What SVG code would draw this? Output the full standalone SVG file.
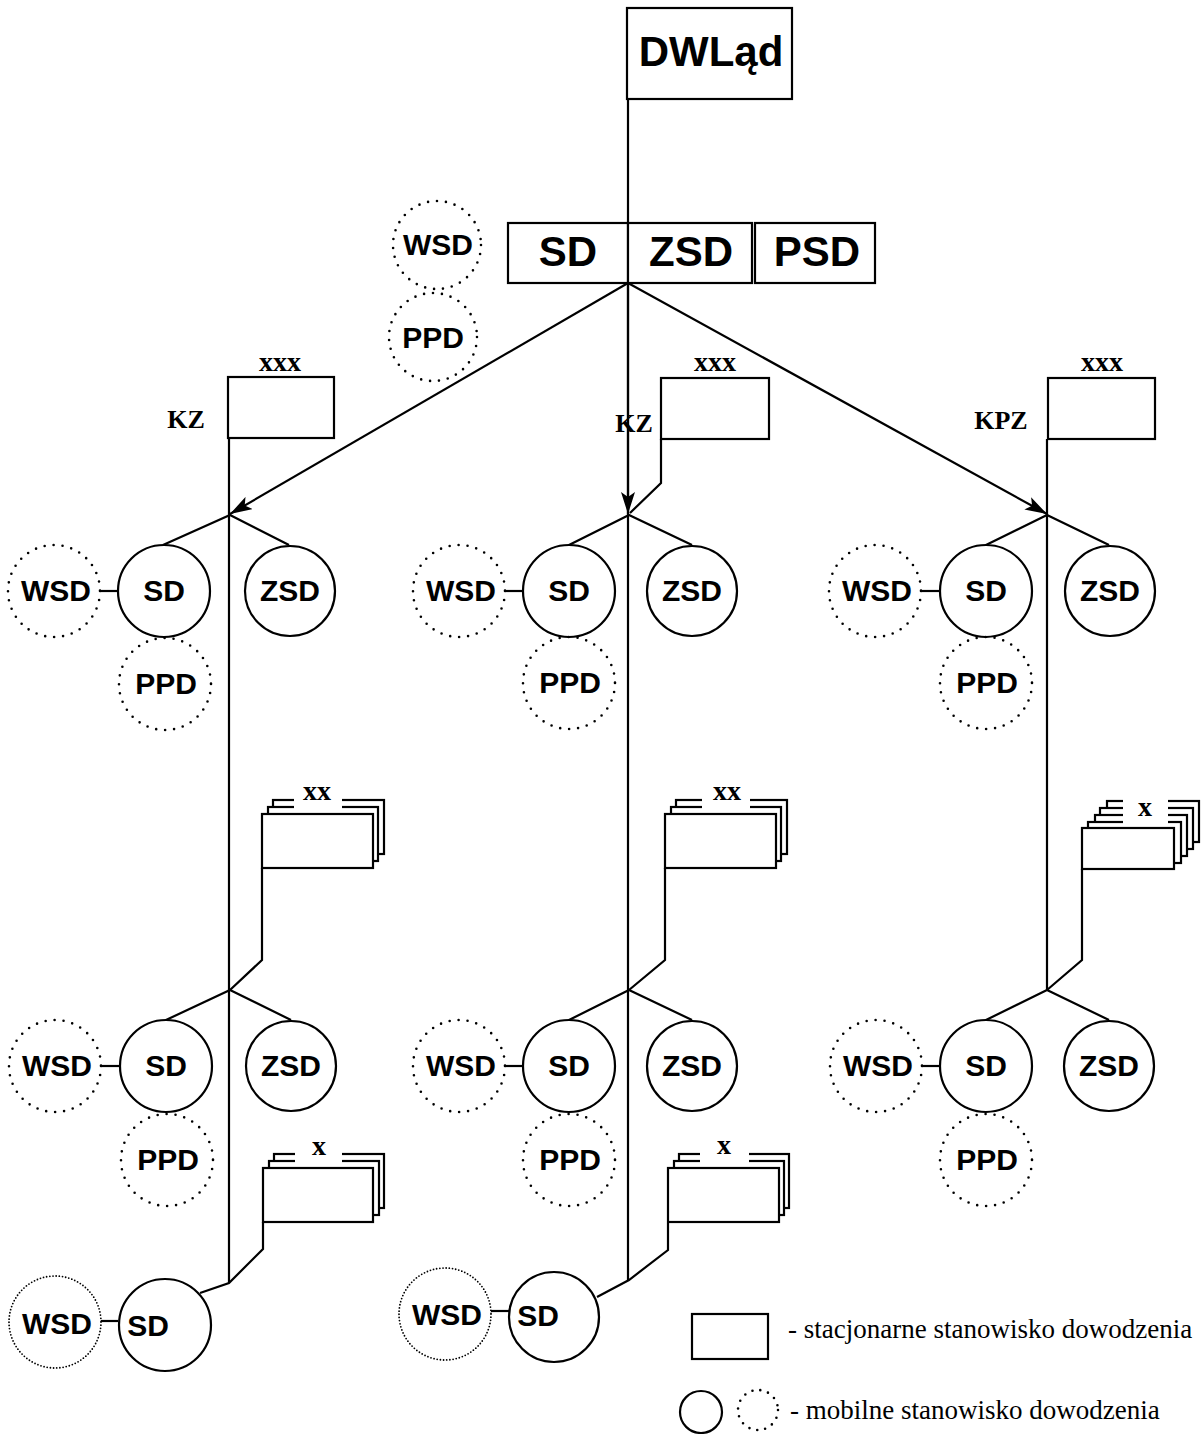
<svg xmlns="http://www.w3.org/2000/svg" width="1204" height="1434" viewBox="0 0 1204 1434">
<defs>
<style>
.ln{stroke:#000;stroke-width:2.2;fill:none}
.bx{stroke:#000;stroke-width:2.2;fill:#fff}
.sc{stroke:#000;stroke-width:2.2;fill:#fff}
.dc{stroke:#000;stroke-width:2.6;fill:none;stroke-dasharray:0 9;stroke-linecap:round}
.fc{stroke:#000;stroke-width:1.8;fill:none;stroke-dasharray:0 3.2;stroke-linecap:round}
.t{font-family:"Liberation Sans",Arial,sans-serif;font-weight:bold;font-size:30px;text-anchor:middle;fill:#000}
.tb{font-family:"Liberation Sans",Arial,sans-serif;font-weight:bold;font-size:42px;text-anchor:middle;fill:#000}
.s{font-family:"Liberation Serif","Times New Roman",serif;font-weight:bold;font-size:26px;text-anchor:middle;fill:#000}
.lg{font-family:"Liberation Serif","Times New Roman",serif;font-size:27px;fill:#000}
</style>
<marker id="ar" viewBox="0 0 22 14" refX="22" refY="7" markerWidth="22" markerHeight="14" markerUnits="userSpaceOnUse" orient="auto">
<path d="M0,0 L22,7 L0,14 L5,7 Z" fill="#000"/>
</marker>
</defs>
<rect width="1204" height="1434" fill="#fff"/>

<g id="connectors">
<path class="ln" d="M628,99 V1280"/>
<path class="ln" d="M229,438 V1283"/>
<path class="ln" d="M1047,439 V990"/>
<path class="ln" d="M628,283 L230,514" marker-end="url(#ar)"/>
<path class="ln" d="M628,283 L628,514" marker-end="url(#ar)"/>
<path class="ln" d="M628,283 L1047,514" marker-end="url(#ar)"/>
<path class="ln" d="M661,439 V483 L630,513"/>
<path class="ln" d="M163,545 L230,515 L289,545"/>
<path class="ln" d="M569,545 L629,515 L692,545"/>
<path class="ln" d="M986,545 L1047,515 L1109,545"/>
<path class="ln" d="M262,868 V960 L230,990"/>
<path class="ln" d="M665,868 V960 L629,990"/>
<path class="ln" d="M1082,869 V960 L1047,990"/>
<path class="ln" d="M166,1020 L230,990 L291,1020"/>
<path class="ln" d="M569,1020 L629,990 L692,1020"/>
<path class="ln" d="M986,1020 L1047,990 L1109,1020"/>
<path class="ln" d="M263,1222 V1249 L229,1283 L200,1293"/>
<path class="ln" d="M668,1223 V1250 L629,1280 L597,1297"/>
<path class="ln" d="M100,591 H117"/>
<path class="ln" d="M505,591 H522"/>
<path class="ln" d="M921,591 H940"/>
<path class="ln" d="M101,1066 H120"/>
<path class="ln" d="M505,1066 H523"/>
<path class="ln" d="M922,1066 H940"/>
<path class="ln" d="M101,1321 H118"/>
<path class="ln" d="M491,1311 H509"/>
</g>

<g id="dwlad">
<rect class="bx" x="627" y="8" width="165" height="91"/>
<text class="tb" x="711" y="66">DWLąd</text>
</g>

<g id="top-row">
<rect class="bx" x="508" y="223" width="120" height="60"/>
<rect class="bx" x="628" y="223" width="124" height="60"/>
<rect class="bx" x="755" y="223" width="120" height="60"/>
<text class="tb" x="568" y="266">SD</text>
<text class="tb" x="691" y="266">ZSD</text>
<text class="tb" x="817" y="266">PSD</text>
</g>

<g id="top-wsd"><circle class="dc" cx="437" cy="245" r="44"/><text class="t" x="438" y="255">WSD</text></g>
<g id="top-ppd"><circle class="dc" cx="433" cy="337" r="44"/><text class="t" x="433" y="348">PPD</text></g>

<g id="flag-kz1">
<rect class="bx" x="228" y="377" width="106" height="61"/>
<text class="s" x="280" y="371" style="font-size:28px">xxx</text>
<text class="s" x="186" y="428">KZ</text>
</g>
<g id="flag-kz2">
<rect class="bx" x="661" y="378" width="108" height="61"/>
<text class="s" x="715" y="371" style="font-size:28px">xxx</text>
<text class="s" x="634" y="432">KZ</text>
</g>
<g id="flag-kpz">
<rect class="bx" x="1048" y="378" width="107" height="61"/>
<text class="s" x="1102" y="371" style="font-size:28px">xxx</text>
<text class="s" x="1001" y="429">KPZ</text>
</g>

<g id="l1-left">
<circle class="dc" cx="54" cy="591" r="46"/><text class="t" x="56" y="601">WSD</text>
<circle class="sc" cx="164" cy="591" r="46"/><text class="t" x="164" y="601">SD</text>
<circle class="sc" cx="290" cy="591" r="45"/><text class="t" x="290" y="601">ZSD</text>
<circle class="dc" cx="165" cy="684" r="46"/><text class="t" x="166" y="694">PPD</text>
</g>
<g id="l1-mid">
<circle class="dc" cx="459" cy="591" r="46"/><text class="t" x="461" y="601">WSD</text>
<circle class="sc" cx="569" cy="591" r="46"/><text class="t" x="569" y="601">SD</text>
<circle class="sc" cx="692" cy="591" r="45"/><text class="t" x="692" y="601">ZSD</text>
<circle class="dc" cx="569" cy="683" r="46"/><text class="t" x="570" y="693">PPD</text>
</g>
<g id="l1-right">
<circle class="dc" cx="875" cy="591" r="46"/><text class="t" x="877" y="601">WSD</text>
<circle class="sc" cx="986" cy="591" r="46"/><text class="t" x="986" y="601">SD</text>
<circle class="sc" cx="1110" cy="591" r="45"/><text class="t" x="1110" y="601">ZSD</text>
<circle class="dc" cx="986" cy="683" r="46"/><text class="t" x="987" y="693">PPD</text>
</g>

<g id="stack-xx-left">
<rect class="bx" x="273" y="800" width="111" height="54"/>
<rect class="bx" x="268" y="807" width="110" height="54"/>
<rect class="bx" x="262" y="814" width="111" height="54"/>
<rect x="294" y="794" width="48" height="17" fill="#fff"/>
<text class="s" x="317" y="800" style="font-size:28px">xx</text>
</g>
<g id="stack-xx-mid">
<rect class="bx" x="676" y="800" width="111" height="54"/>
<rect class="bx" x="671" y="807" width="110" height="54"/>
<rect class="bx" x="665" y="814" width="111" height="54"/>
<rect x="702" y="794" width="48" height="17" fill="#fff"/>
<text class="s" x="727" y="800" style="font-size:28px">xx</text>
</g>
<g id="stack-x-right">
<rect class="bx" x="1107" y="801" width="92" height="41"/>
<rect class="bx" x="1100" y="808" width="93" height="41"/>
<rect class="bx" x="1095" y="815" width="92" height="41"/>
<rect class="bx" x="1088" y="822" width="93" height="41"/>
<rect class="bx" x="1082" y="828" width="92" height="41"/>
<rect x="1123" y="796" width="45" height="28" fill="#fff"/>
<text class="s" x="1145" y="816" style="font-size:28px">x</text>
</g>

<g id="l2-left">
<circle class="dc" cx="55" cy="1066" r="46"/><text class="t" x="57" y="1076">WSD</text>
<circle class="sc" cx="166" cy="1066" r="46"/><text class="t" x="166" y="1076">SD</text>
<circle class="sc" cx="291" cy="1066" r="45"/><text class="t" x="291" y="1076">ZSD</text>
<circle class="dc" cx="167" cy="1160" r="46"/><text class="t" x="168" y="1170">PPD</text>
</g>
<g id="l2-mid">
<circle class="dc" cx="459" cy="1066" r="46"/><text class="t" x="461" y="1076">WSD</text>
<circle class="sc" cx="569" cy="1066" r="46"/><text class="t" x="569" y="1076">SD</text>
<circle class="sc" cx="692" cy="1066" r="45"/><text class="t" x="692" y="1076">ZSD</text>
<circle class="dc" cx="569" cy="1160" r="46"/><text class="t" x="570" y="1170">PPD</text>
</g>
<g id="l2-right">
<circle class="dc" cx="876" cy="1066" r="46"/><text class="t" x="878" y="1076">WSD</text>
<circle class="sc" cx="986" cy="1066" r="46"/><text class="t" x="986" y="1076">SD</text>
<circle class="sc" cx="1109" cy="1066" r="45"/><text class="t" x="1109" y="1076">ZSD</text>
<circle class="dc" cx="986" cy="1160" r="46"/><text class="t" x="987" y="1170">PPD</text>
</g>

<g id="stack-x-left">
<rect class="bx" x="274" y="1154" width="110" height="54"/>
<rect class="bx" x="269" y="1161" width="110" height="54"/>
<rect class="bx" x="263" y="1168" width="110" height="54"/>
<rect x="295" y="1148" width="47" height="17" fill="#fff"/>
<text class="s" x="319" y="1155" style="font-size:28px">x</text>
</g>
<g id="stack-x-mid">
<rect class="bx" x="679" y="1154" width="110" height="54"/>
<rect class="bx" x="674" y="1161" width="110" height="54"/>
<rect class="bx" x="668" y="1168" width="111" height="54"/>
<rect x="700" y="1148" width="49" height="17" fill="#fff"/>
<text class="s" x="724" y="1154" style="font-size:28px">x</text>
</g>

<g id="l3-left">
<circle class="fc" cx="55" cy="1322" r="46"/><text class="t" x="57" y="1334">WSD</text>
<circle class="sc" cx="165" cy="1325" r="46"/><text class="t" x="148" y="1336">SD</text>
</g>
<g id="l3-mid">
<circle class="fc" cx="445" cy="1314" r="46"/><text class="t" x="447" y="1325">WSD</text>
<circle class="sc" cx="554" cy="1317" r="45"/><text class="t" x="538" y="1326">SD</text>
</g>

<g id="legend">
<rect class="bx" x="692" y="1314" width="76" height="45"/>
<text class="lg" x="788" y="1338">- stacjonarne stanowisko dowodzenia</text>
<circle class="sc" cx="701" cy="1412" r="21"/>
<circle class="dc" cx="758" cy="1410" r="20" style="stroke-dasharray:0 8"/>
<text class="lg" x="790" y="1419">- mobilne stanowisko dowodzenia</text>
</g>
</svg>
